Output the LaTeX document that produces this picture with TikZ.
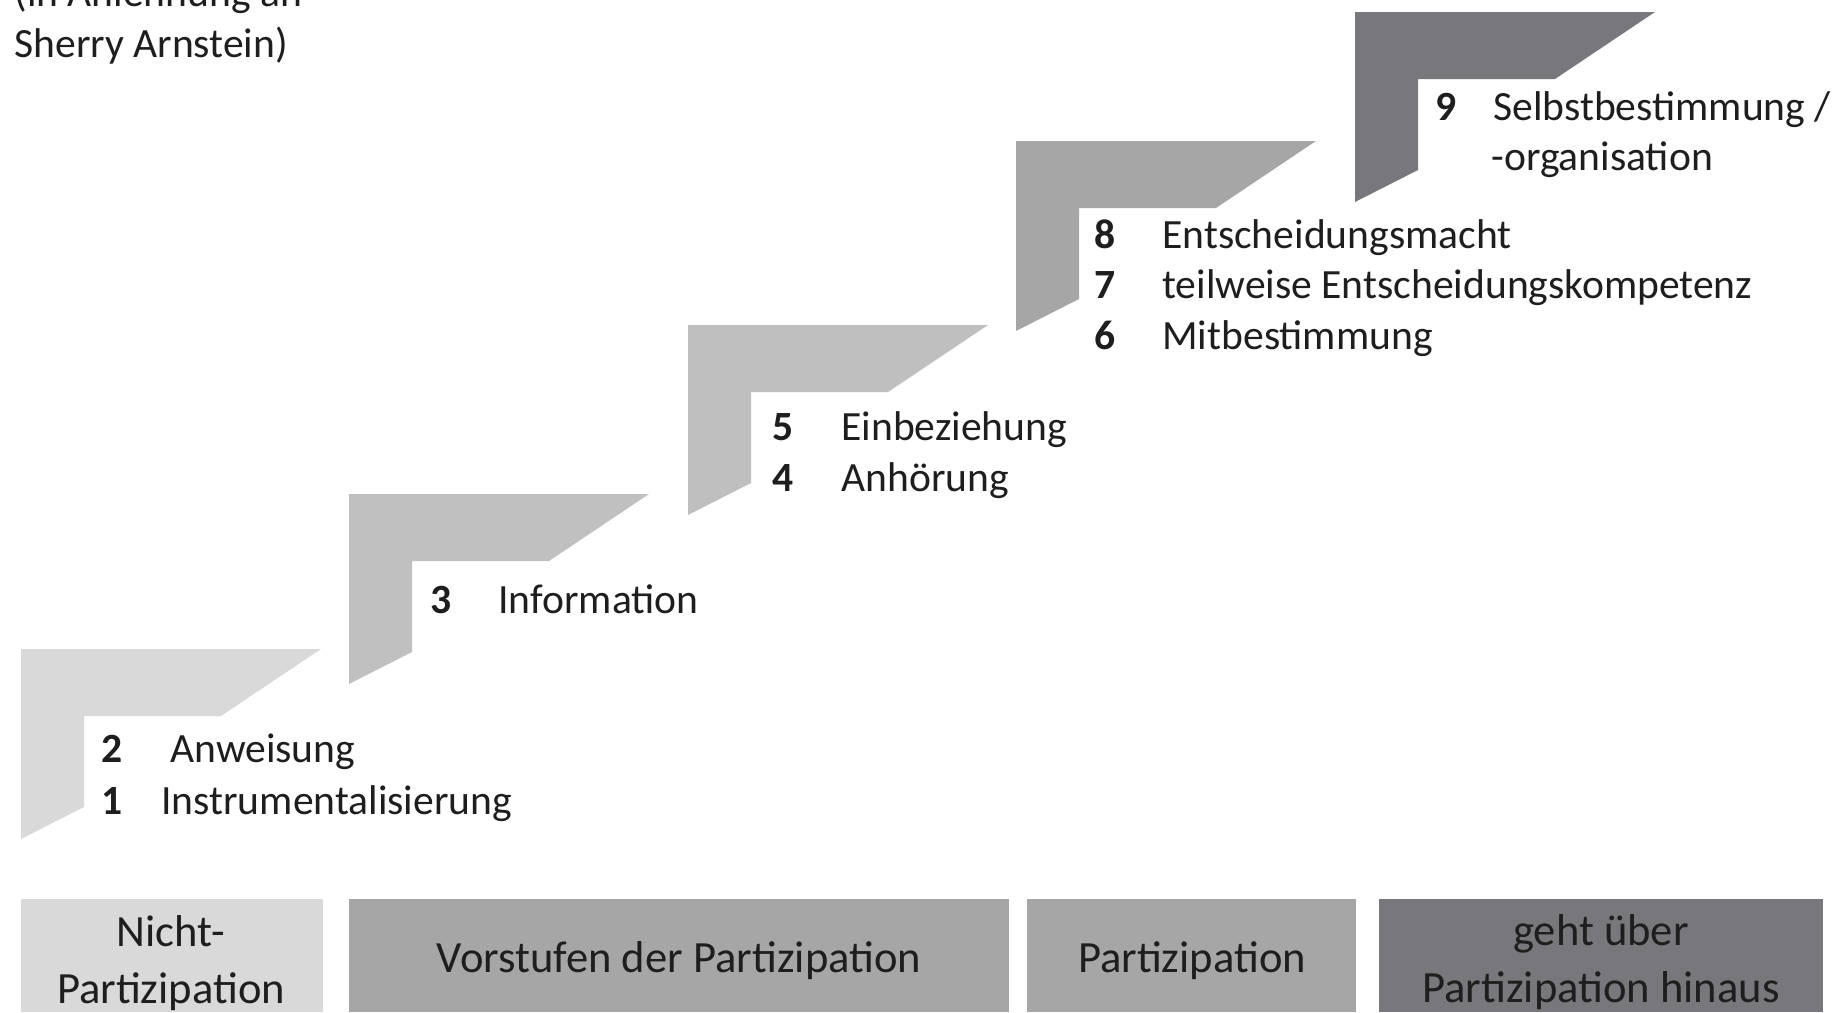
\documentclass[tikz,border=0pt]{standalone}
\usepackage{fontspec}
\setmainfont{Carlito}
\definecolor{cA}{HTML}{D9D9D9}
\definecolor{cB}{HTML}{C0C0C0}
\definecolor{cC}{HTML}{BFBFBF}
\definecolor{cD}{HTML}{A6A6A6}
\definecolor{cE}{HTML}{78787C}
\definecolor{txt}{HTML}{1E1E1E}
\begin{document}
\begin{tikzpicture}[x=0.5pt,y=-0.5pt,
  stairshape/.pic={\fill[pic actions] (0,0) -- (300,0) -- (200,67) -- (63,67) -- (63,158) -- (0,190) -- cycle;},
  lbl/.style={anchor=base west, inner sep=0pt, font=\fontsize{20.8}{25}\selectfont, text=txt},
  num/.style={lbl, font=\fontsize{20.8}{25}\selectfont\bfseries},
  band/.style={inner sep=0pt, align=center, font=\fontsize{22.3}{28.5}\selectfont, text=txt}]
\useasboundingbox (0,0) rectangle (1841,1012);
\clip (0,0) rectangle (1841,1012);
\fill[white] (0,0) rectangle (1841,1012);
% stairs
\pic[fill=cA] at (21,649) {stairshape};
\pic[fill=cB] at (349,494) {stairshape};
\pic[fill=cC] at (688,325) {stairshape};
\pic[fill=cD] at (1016,141) {stairshape};
\pic[fill=cE] at (1355,12) {stairshape};
% title
\node[lbl] (t1) at (14,6) {(in Anlehnung an};
\node[lbl] (t2) at (14,57) {Sherry Arnstein)};
% labels
\node[num] (n9) at (1435,120) {9};
\node[lbl] (l9) at (1493,120) {Selbstbestimmung /};
\node[lbl] (l9b) at (1491,170) {-organisation};
\node[num] (n8) at (1094,248) {8};
\node[lbl] (l8) at (1162,248) {Entscheidungsmacht};
\node[num] (n7) at (1094,298) {7};
\node[lbl] (l7) at (1162,298) {teilweise Entscheidungskompetenz};
\node[num] (n6) at (1094,349) {6};
\node[lbl] (l6) at (1162,349) {Mitbestimmung};
\node[num] (n5) at (772,440) {5};
\node[lbl] (l5) at (841,440) {Einbeziehung};
\node[num] (n4) at (772,491) {4};
\node[lbl] (l4) at (841,491) {Anhörung};
\node[num] (n3) at (430,613) {3};
\node[lbl] (l3) at (498,613) {Information};
\node[num] (n2) at (101,762) {2};
\node[lbl] (l2) at (170,762) {Anweisung};
\node[num] (n1) at (101,814) {1};
\node[lbl] (l1) at (161,814) {Instrumentalisierung};
% bottom bands
\fill[cA] (21,899) rectangle (323,1012);
\fill[cD] (349,899) rectangle (1009,1012);
\fill[cD] (1027,899) rectangle (1356,1012);
\fill[cE] (1379,899) rectangle (1823,1012);
\node[band] (b1) at (171,963) {Nicht-\\Partizipation};
\node[band] (b2) at (679,961) {Vorstufen der Partizipation};
\node[band] (b3) at (1192,961) {Partizipation};
\node[band] (b4) at (1601,962) {geht über\\Partizipation hinaus};
\end{tikzpicture}
\end{document}
